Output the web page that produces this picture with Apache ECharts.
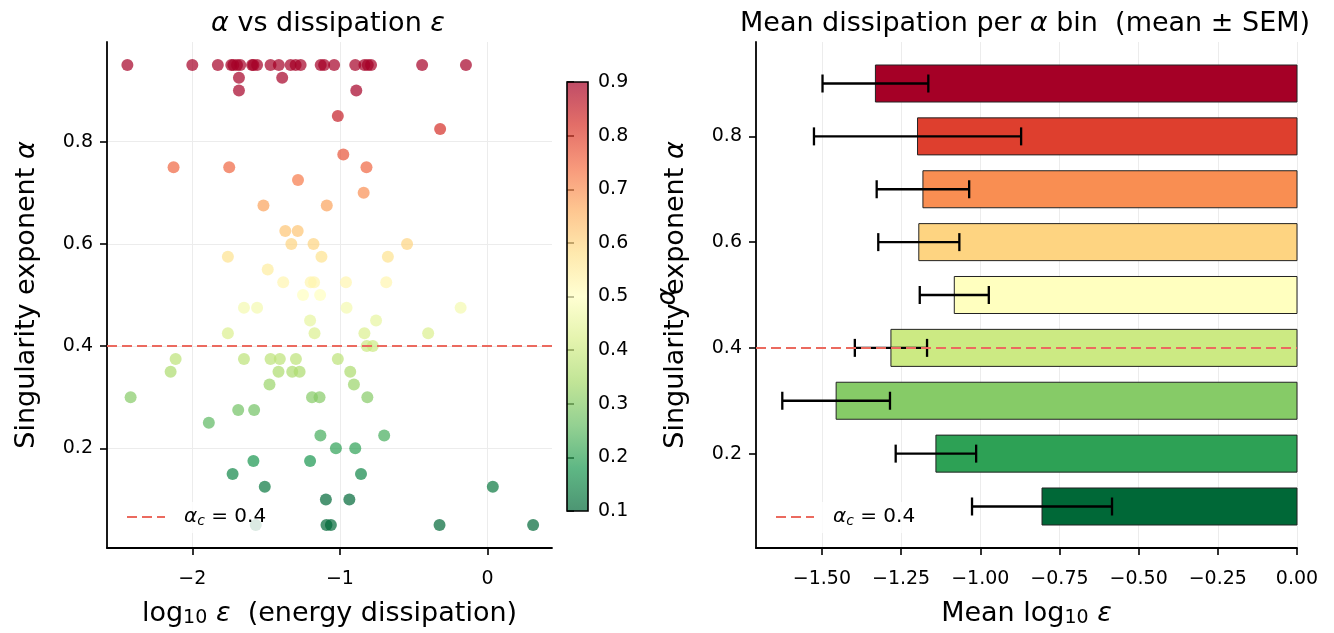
<!DOCTYPE html>
<html><head><meta charset="utf-8">
<script src="https://cdn.jsdelivr.net/npm/echarts@6/dist/echarts.min.js"></script>
<style>html,body{margin:0;padding:0;background:#fff}#c{width:1334px;height:633px}</style>
</head><body><div id="c"></div>
<script>
// ---------- data ----------
const logEps = [
  -2.44,-2.00,-1.827,-1.736,-1.722,-1.697,-1.675,-1.595,-1.586,-1.561,-1.47,-1.414,-1.334,-1.30,-1.266,-1.13,-1.107,-1.039,-0.896,-0.834,-0.811,-0.789,-0.443,-0.146,
  -1.684,-1.391,
  -1.684,-0.889,
  -1.014,
  -0.321,
  -0.977,
  -2.127,-1.75,-0.82,
  -1.284,
  -0.839,
  -1.518,-1.089,
  -1.37,-1.286,
  -1.329,-1.179,-0.545,
  -1.759,-1.125,-0.675,
  -1.489,
  -1.384,-1.198,-1.175,-0.959,-0.686,
  -1.25,-1.134,
  -1.65,-1.561,-0.955,-0.182,
  -1.202,-0.755,
  -1.759,-1.172,-0.834,-0.402,
  -0.818,-0.777,
  -2.113,-1.65,-1.47,-1.407,-1.298,-1.014,
  -2.147,-1.416,-1.323,-1.273,-0.93,
  -1.477,-0.905,
  -2.418,-1.189,-1.138,-0.814,
  -1.689,-1.581,
  -1.888,
  -1.132,-0.7,
  -1.027,-0.896,
  -1.586,-1.202,
  -1.727,-0.857,
  -1.509,0.036,
  -1.095,-0.936,
  -1.57,-1.091,-1.061,-0.325,0.309
];
const alphaVals = [
  0.95,0.95,0.95,0.95,0.95,0.95,0.95,0.95,0.95,0.95,0.95,0.95,0.95,0.95,0.95,0.95,0.95,0.95,0.95,0.95,0.95,0.95,0.95,0.95,
  0.925,0.925,
  0.9,0.9,
  0.85,
  0.825,
  0.775,
  0.75,0.75,0.75,
  0.725,
  0.7,
  0.675,0.675,
  0.625,0.625,
  0.6,0.6,0.6,
  0.575,0.575,0.575,
  0.55,
  0.525,0.525,0.525,0.525,0.525,
  0.5,0.5,
  0.475,0.475,0.475,0.475,
  0.45,0.45,
  0.425,0.425,0.425,0.425,
  0.4,0.4,
  0.375,0.375,0.375,0.375,0.375,0.375,
  0.35,0.35,0.35,0.35,0.35,
  0.325,0.325,
  0.3,0.3,0.3,0.3,
  0.275,0.275,
  0.25,
  0.225,0.225,
  0.2,0.2,
  0.175,0.175,
  0.15,0.15,
  0.125,0.125,
  0.1,0.1,
  0.05,0.05,0.05,0.05,0.05
];
const alphaC = 0.4;
const binCenters = [0.1,0.2,0.3,0.4,0.5,0.6,0.7,0.8,0.9];
const binMeans   = [-0.805,-1.140,-1.455,-1.282,-1.082,-1.194,-1.181,-1.198,-1.331];
const binSEM     = [0.221,0.127,0.170,0.114,0.109,0.128,0.146,0.327,0.167];
const xTicksLeft  = [-2,-1,0];
const yTicks      = [0.2,0.4,0.6,0.8];
const xTicksRight = [-1.5,-1.25,-1,-0.75,-0.5,-0.25,0];
const cbTicks     = [0.1,0.2,0.3,0.4,0.5,0.6,0.7,0.8,0.9];

// ---------- colormap (RdYlGn) ----------
const RDYLGN = ['#a50026','#d73027','#f46d43','#fdae61','#fee08b','#ffffbf','#d9ef8b','#a6d96a','#66bd63','#1a9850','#006837'];
function hex2rgb(h){return [1,3,5].map(i=>parseInt(h.substr(i,2),16));}
function cmap(t){
  t=Math.max(0,Math.min(1,t));
  const p=t*(RDYLGN.length-1), i=Math.min(Math.floor(p),RDYLGN.length-2), f=p-i;
  const a=hex2rgb(RDYLGN[i]), b=hex2rgb(RDYLGN[i+1]);
  const c=a.map((v,k)=>Math.round(v+(b[k]-v)*f));
  return 'rgb('+c.join(',')+')';
}
const cbMin = cbTicks[0], cbMax = cbTicks[cbTicks.length-1];
function alphaColor(a){return cmap((cbMax-a)/(cbMax-cbMin));}

const FONT = 'DejaVu Sans';
const DASH = '#eb6a5f';
const minusFmt = d => v => (v<0?'\u2212':'') + (d==null?String(Math.abs(v)):Math.abs(v).toFixed(d));
const tickCommon = {show:true, inside:false, length:7, lineStyle:{color:'#000', width:1.6}};
const lineCommon = {show:true, onZero:false, lineStyle:{color:'#000', width:1.8}};
const labelBase = {color:'#000', fontSize:19, fontFamily:FONT};
const nameRich = {
  t:{fontSize:27, fontFamily:FONT, fontWeight:'normal', color:'#000'},
  i:{fontSize:27, fontFamily:FONT, fontWeight:'normal', fontStyle:'italic', color:'#000'},
  s:{fontSize:19, fontFamily:FONT, fontWeight:'normal', color:'#000', verticalAlign:'bottom', padding:[10,0,0,0]}
};
const legRich = {
  i:{fontSize:20, fontFamily:FONT, fontStyle:'italic', color:'#000', padding:[0,0,0,14]},
  s:{fontSize:14, fontFamily:FONT, fontStyle:'italic', color:'#000', verticalAlign:'bottom', padding:[8,0,0,0]},
  t:{fontSize:20, fontFamily:FONT, color:'#000'}
};

const option = {
  animation:false,
  backgroundColor:'#fff',
  title:[
    {text:'{i|\u03b1}{t| vs dissipation }{i|\u03b5}', left:323, top:5, textAlign:'center',
     textStyle:{fontWeight:'normal', rich:nameRich}},
    {text:'{t|Mean dissipation per }{i|\u03b1}{t| bin  (mean \u00b1 SEM)}', left:1020, top:5, textAlign:'center',
     textStyle:{fontWeight:'normal', rich:nameRich}}
  ],
  legend:[
    {data:[{name:'acL', itemStyle:{opacity:0}}], left:116, top:502, itemWidth:38, itemHeight:14, padding:[5,10,5,10],
     backgroundColor:'rgba(255,255,255,0.8)',
     formatter:()=>'{i|\u03b1}{s|c}{t| = 0.4}', textStyle:{rich:legRich}},
    {data:[{name:'acR', itemStyle:{opacity:0}}], left:765, top:502, itemWidth:38, itemHeight:14, padding:[5,10,5,10],
     backgroundColor:'rgba(255,255,255,0.8)',
     formatter:()=>'{i|\u03b1}{s|c}{t| = 0.4}', textStyle:{rich:legRich}}
  ],
  grid:[
    {left:107, top:42, width:445, height:506},
    {left:567, top:82, width:21, height:429},
    {left:756, top:42, width:541, height:506}
  ],
  xAxis:[
    {gridIndex:0, type:'value', min:-2.578, max:0.437,
     axisLine:lineCommon, axisTick:Object.assign({customValues:xTicksLeft},tickCommon),
     axisLabel:Object.assign({customValues:xTicksLeft, formatter:minusFmt(null), margin:22},labelBase),
     splitLine:{show:true, lineStyle:{color:'#ececec', width:1}},
     name:'{t|log}{s|10}{t| }{i|\u03b5}{t|  (energy dissipation)}', nameLocation:'middle', nameGap:51,
     nameTextStyle:{rich:nameRich}},
    {gridIndex:1, type:'value', min:0, max:1, show:false},
    {gridIndex:2, type:'value', min:-1.708, max:0,
     axisLine:lineCommon, axisTick:Object.assign({customValues:xTicksRight},tickCommon),
     axisLabel:Object.assign({customValues:xTicksRight, formatter:minusFmt(2), margin:22},labelBase),
     splitLine:{show:true, lineStyle:{color:'#ececec', width:1}},
     name:'{t|Mean log}{s|10}{t| }{i|\u03b5}', nameLocation:'middle', nameGap:51,
     nameTextStyle:{rich:nameRich}}
  ],
  yAxis:[
    {gridIndex:0, type:'value', min:0.005, max:0.995,
     axisLine:lineCommon, axisTick:Object.assign({customValues:yTicks},tickCommon),
     axisLabel:Object.assign({customValues:yTicks, formatter:v=>v.toFixed(1), margin:14},labelBase),
     splitLine:{show:true, lineStyle:{color:'#ececec', width:1}},
     name:'{t|Singularity exponent }{i|\u03b1}', nameLocation:'middle', nameGap:67, nameRotate:90,
     nameTextStyle:{rich:nameRich}},
    {gridIndex:1, type:'value', min:cbMin, max:cbMax, position:'right',
     axisLine:{show:false}, axisTick:Object.assign({customValues:cbTicks},tickCommon),
     axisLabel:Object.assign({customValues:cbTicks, formatter:v=>v.toFixed(1), margin:10},labelBase),
     splitLine:{show:false},
     name:'{i|\u03b1}', nameLocation:'middle', nameGap:66, nameRotate:90,
     nameTextStyle:{rich:nameRich}},
    {gridIndex:2, type:'value', min:0.0215, max:0.9785,
     axisLine:lineCommon, axisTick:Object.assign({customValues:yTicks},tickCommon),
     axisLabel:Object.assign({customValues:yTicks, formatter:v=>v.toFixed(1), margin:14},labelBase),
     splitLine:{show:false},
     name:'{t|Singularity exponent }{i|\u03b1}', nameLocation:'middle', nameGap:67, nameRotate:90,
     nameTextStyle:{rich:nameRich}}
  ],
  series:[
    {type:'scatter', xAxisIndex:0, yAxisIndex:0, symbolSize:12, z:3,
     data:logEps.map((x,i)=>[x, alphaVals[i]]),
     itemStyle:{opacity:0.7, color:p=>alphaColor(p.value[1])}},
    {name:'acL', type:'line', xAxisIndex:0, yAxisIndex:0, data:[], symbol:'none', showSymbol:false, z:5,
     lineStyle:{color:DASH, width:2, type:[10,5]}, itemStyle:{color:DASH},
     markLine:{silent:true, symbol:['none','none'], label:{show:false},
       lineStyle:{color:DASH, width:2, type:[10,5]}, data:[{yAxis:alphaC}]}},
    {type:'custom', xAxisIndex:1, yAxisIndex:1, data:[[0]],
     renderItem:(params, api)=>{
       const p0 = api.coord([0, cbMax]), p1 = api.coord([1, cbMin]);
       const shape = {x:p0[0], y:p0[1], width:p1[0]-p0[0], height:p1[1]-p0[1]};
       return {type:'group', children:[
         {type:'rect', shape, style:{opacity:0.7,
           fill:new echarts.graphic.LinearGradient(0,0,0,1, RDYLGN.map((c,i)=>({offset:i/(RDYLGN.length-1), color:c})))}},
         {type:'rect', shape, style:{fill:'none', stroke:'#000', lineWidth:1.6}}
       ]};
     }},
    {type:'custom', xAxisIndex:2, yAxisIndex:2, z:2,
     data:binCenters.map((c,i)=>[binMeans[i], c]), encode:{x:0, y:1},
     renderItem:(params, api)=>{
       const y = api.value(1), half = 0.035;
       const p0 = api.coord([api.value(0), y+half]), p1 = api.coord([0, y-half]);
       return {type:'rect', shape:{x:p0[0], y:p0[1], width:p1[0]-p0[0], height:p1[1]-p0[1]},
         style:{fill:alphaColor(y), stroke:'#222', lineWidth:1}};
     }},
    {type:'custom', xAxisIndex:2, yAxisIndex:2, z:4,
     data:binCenters.map((c,i)=>[binMeans[i]-binSEM[i], binMeans[i]+binSEM[i], c]), encode:{x:[0,1], y:2},
     renderItem:(params, api)=>{
       const lo = api.coord([api.value(0), api.value(2)]), hi = api.coord([api.value(1), api.value(2)]);
       const h = 9, st = {stroke:'#000', lineWidth:2.3};
       return {type:'group', children:[
         {type:'line', shape:{x1:lo[0], y1:lo[1], x2:hi[0], y2:hi[1]}, style:st},
         {type:'line', shape:{x1:lo[0], y1:lo[1]-h, x2:lo[0], y2:lo[1]+h}, style:st},
         {type:'line', shape:{x1:hi[0], y1:hi[1]-h, x2:hi[0], y2:hi[1]+h}, style:st}
       ]};
     }},
    {name:'acR', type:'line', xAxisIndex:2, yAxisIndex:2, data:[], symbol:'none', showSymbol:false, z:6,
     lineStyle:{color:DASH, width:2, type:[10,5]}, itemStyle:{color:DASH},
     markLine:{silent:true, symbol:['none','none'], label:{show:false}, z:6,
       lineStyle:{color:DASH, width:2, type:[10,5]}, data:[{yAxis:alphaC}]}}
  ]
};
const chart = echarts.init(document.getElementById('c'), null, {renderer:'canvas'});
chart.setOption(option);
</script>
</body></html>
